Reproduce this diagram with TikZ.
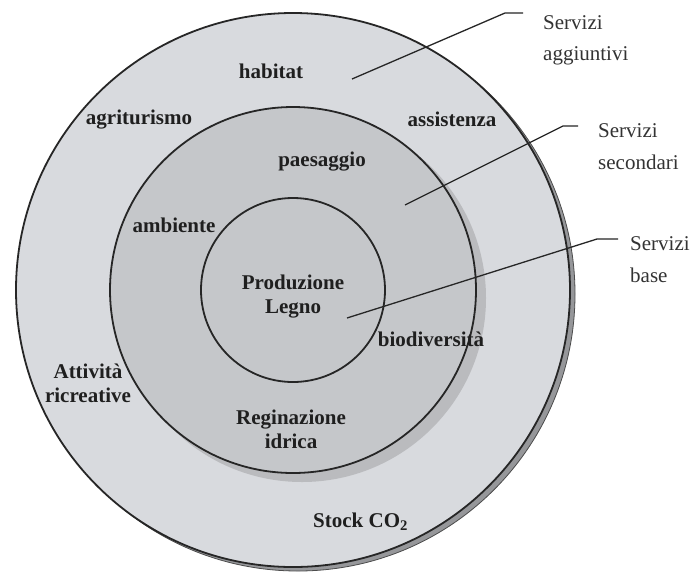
\documentclass[tikz,border=0pt]{standalone}
\usepackage{fontspec}
\setmainfont{Liberation Serif}
\definecolor{ringlight}{RGB}{216,218,222}
\definecolor{ringmid}{RGB}{197,199,202}
\definecolor{ringshade}{RGB}{186,187,190}
\definecolor{rimshade}{RGB}{150,151,154}

\begin{document}
\begin{tikzpicture}[x=1pt,y=-1pt,
  ring/.style={draw=black!85,line width=1.8pt},
  lead/.style={draw=black!85,line width=1.3pt},
  word/.style={font=\bfseries\fontsize{21}{24}\selectfont,text=black!88,inner sep=0pt,align=center},
  side/.style={font=\fontsize{21}{31}\selectfont,text=black!80,inner sep=0pt,align=left,anchor=west},
]
\useasboundingbox[fill=white] (0,0) rectangle (695,574);
\coordinate (mid) at (293,290);
% rings and their shadows
\filldraw[fill=rimshade,draw=black!70,line width=0.8pt] ([shift={(5,4)}]mid) circle[radius=277pt];
\filldraw[ring,fill=ringlight] (mid) circle[radius=277pt];
\fill[ringshade] ([shift={(9,8)}]mid) circle[radius=184pt];
\filldraw[ring,fill=ringmid] (mid) circle[radius=183pt];
\draw[ring] (mid) circle[radius=92pt];
% labels in the rings
\node[word,anchor=base] (habitat) at (271,78) {habitat};
\node[word,anchor=base] (agri) at (139,124) {agriturismo};
\node[word,anchor=base] (assist) at (452,126) {assistenza};
\node[word,anchor=base] (paes) at (322,166) {paesaggio};
\node[word,anchor=base] (amb) at (174,232) {ambiente};
\node[word] (legno) at (293,297) {Produzione\\Legno};
\node[word,anchor=base] (biodiv) at (431,346) {biodiversità};
\node[word] (ricre) at (88,383) {Attività\\ricreative};
\node[word] (idrica) at (291,429) {Reginazione\\idrica};
\node[word,anchor=base west] (stock) at (313,527) {Stock CO\textsubscript{2}};
% side labels
\node[side] (agg) at (543,40) {Servizi\\aggiuntivi};
\node[side,font=\fontsize{21}{32}\selectfont] (sec) at (598,147) {Servizi\\secondari};
\node[side,font=\fontsize{21}{32}\selectfont] (base) at (630,260) {Servizi\\base};
% leaders
\coordinate (agg-in) at (352,79);
\coordinate (agg-knee) at (505,13);
\coordinate (agg-end) at (523,13);
\coordinate (sec-in) at (405,205);
\coordinate (sec-knee) at (563,126);
\coordinate (sec-end) at (578,126);
\coordinate (base-in) at (347,318);
\coordinate (base-knee) at (597,239);
\coordinate (base-end) at (618,239);
\draw[lead] (agg-in) -- (agg-knee) -- (agg-end);
\draw[lead] (sec-in) -- (sec-knee) -- (sec-end);
\draw[lead] (base-in) -- (base-knee) -- (base-end);
\end{tikzpicture}
\end{document}
